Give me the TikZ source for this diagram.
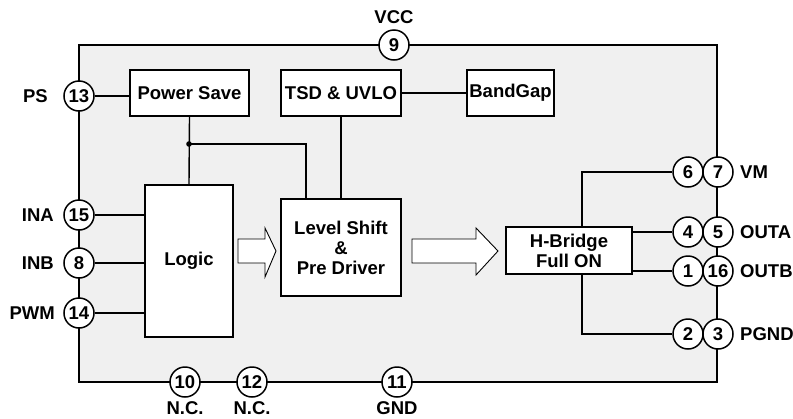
\documentclass[tikz,border=0pt]{standalone}
\usepackage{fontspec}
\setmainfont{Liberation Sans}
\begin{document}
\begin{tikzpicture}[x=1pt,y=-1pt,
  font=\fontsize{18.5}{21}\selectfont\bfseries,
  box/.style={draw,fill=white,line width=1.5pt,minimum width=#1,minimum height=46pt,inner sep=0pt,align=center},
  pin/.style={draw,fill=white,circle,line width=1.5pt,minimum size=30pt,inner sep=0pt},
  wire/.style={line width=1.4pt},
  lbl/.style={inner sep=0pt},
  barrow/.style={line width=0.9pt,fill=white}]
\useasboundingbox (0,0) rectangle (793,418);
% package outline
\draw[line width=1.8pt,fill={rgb,255:red,240;green,240;blue,240}] (79,45) rectangle (717,382);
% blocks
\node[box=119pt] (ps) at (189.5,93) {Power Save};
\node[box=120pt] (tsd) at (341,93) {TSD \& UVLO};
\node[box=87pt] (bg) at (510.5,93) {BandGap};
\node[box=88pt,minimum height=152pt] (logic) at (189,261) {Logic};
\node[box=120pt,minimum height=97pt] (ls) at (341,247.5) {Level Shift\\[-1pt]\&\\[-1pt]Pre Driver};
\node[box=126pt,minimum height=47pt] (hb) at (569,250.5) {H-Bridge\\[-1pt]Full ON};
% pins
\node[pin] (p9) at (394,45) {9};
\node[pin] (p13) at (79,96) {13};
\node[pin] (p15) at (79,215) {15};
\node[pin] (p8) at (79,263) {8};
\node[pin] (p14) at (79,313) {14};
\node[pin] (p10) at (185,382) {10};
\node[pin] (p12) at (252,382) {12};
\node[pin] (p11) at (397,382) {11};
\node[pin] (p6) at (688,172) {6};
\node[pin] (p7) at (718,172) {7};
\node[pin] (p4) at (688,232) {4};
\node[pin] (p5) at (718,232) {5};
\node[pin] (p1) at (688,271) {1};
\node[pin] (p16) at (718,271) {16};
\node[pin] (p2) at (688,334) {2};
\node[pin] (p3) at (718,334) {3};
% labels
\node[lbl] (lvcc) at (394,17) {VCC};
\node[lbl,anchor=east] (lps) at (48,96) {PS};
\node[lbl,anchor=east] (lina) at (54,215) {INA};
\node[lbl,anchor=east] (linb) at (54,263) {INB};
\node[lbl,anchor=east] (lpwm) at (55,313) {PWM};
\node[lbl] (lnc1) at (185,408.5) {N.C.};
\node[lbl] (lnc2) at (252,408.5) {N.C.};
\node[lbl] (lgnd) at (397,408.5) {GND};
\node[lbl,anchor=west] (lvm) at (740,172) {VM};
\node[lbl,anchor=west] (louta) at (740,232) {OUTA};
\node[lbl,anchor=west] (loutb) at (740,271) {OUTB};
\node[lbl,anchor=west] (lpgnd) at (740,334) {PGND};
% wires
\draw[wire] (p13) -- (ps.west |- p13);
\draw[wire] (tsd) -- (bg);
\draw[wire] (p15) -- (logic.west |- p15);
\draw[wire] (p8) -- (logic.west |- p8);
\draw[wire] (p14) -- (logic.west |- p14);
\coordinate (j) at (189,144);
\draw[wire] (ps.south) -- (logic.north);
\draw[wire] (j) -| (306,199.5);
\fill (j) circle (2.8pt);
\draw[wire] (tsd.south) -- (tsd.south |- ls.north);
\draw[wire] (hb.north -| 582,0) |- (p6);
\draw[wire] (hb.south -| 582,0) |- (p2);
\draw[wire] (hb.east |- p4) -- (p4);
\draw[wire] (hb.east |- p1) -- (p1);
% block arrows
\draw[barrow] (238,239) -- (265,239) -- (265,228) -- (276,251) -- (265,277) -- (265,263) -- (238,263) -- cycle;
\draw[barrow] (412,239) -- (476,239) -- (476,228) -- (498,251) -- (476,275) -- (476,263) -- (412,263) -- cycle;
\end{tikzpicture}
\end{document}
